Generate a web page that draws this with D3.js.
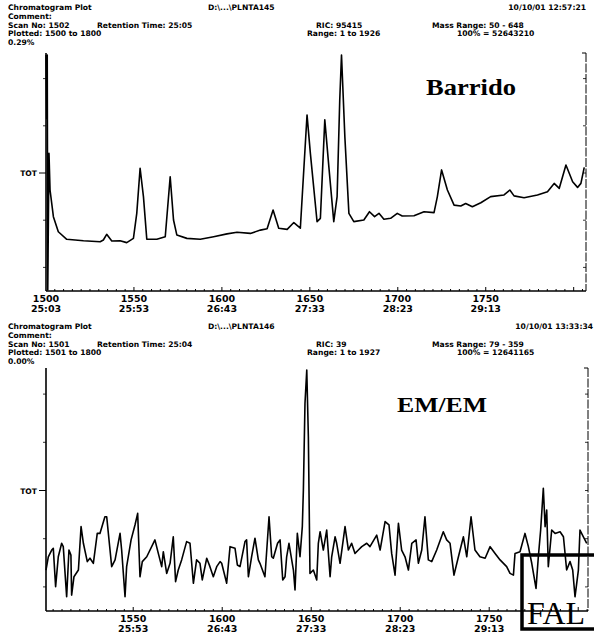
<!DOCTYPE html>
<html>
<head>
<meta charset="utf-8">
<title>Chromatogram Plot</title>
<script src="https://cdn.jsdelivr.net/npm/d3@7"></script>
<style>
	body { margin: 0; background: #fff; }
	svg { display: block; }
	.hdr { font-family: "DejaVu Sans", sans-serif; font-size: 7.6px; font-weight: bold; fill: #000; }
	.tick-lbl { font-family: "DejaVu Sans", sans-serif; font-size: 9.5px; font-weight: bold; fill: #000; text-anchor: middle; }
	.title { font-family: "Liberation Serif", serif; font-weight: bold; fill: #000; }
	.sig { fill: none; stroke: #000; stroke-width: 1.6; stroke-linejoin: round; }
</style>
</head>
<body>
<svg width="594" height="636"></svg>
<script>
// x tick labels (scan number / retention time)
var tickScans = [1500, 1550, 1600, 1650, 1700, 1750];
var tickTimes = ['25:03', '25:53', '26:43', '27:33', '28:23', '29:13'];

// panel 1: Barrido (full scan)
var barridoScans = [1500, 1500.4, 1500.7, 1501, 1501.7, 1502.3, 1504.2, 1507, 1511.8, 1521.3, 1530.8, 1532.6,
	1534.5, 1537.4, 1542.1, 1545.9, 1549.7, 1551.6, 1553.5, 1555.4, 1557.3, 1563, 1567.8, 1570.6, 1572.5,
	1574.4, 1580.1, 1587.7, 1595.3, 1602.9, 1608.6, 1616.2, 1621.9, 1625.7, 1629.1, 1632.3, 1637.1, 1640.9,
	1644.6, 1648.4, 1650.3, 1654.1, 1656, 1658.5, 1660.8, 1663.6, 1665.5, 1667, 1668, 1669.9, 1672.2, 1675,
	1680.7, 1683.9, 1686.8, 1689.3, 1692.1, 1695.9, 1699.7, 1702.5, 1709.2, 1714.9, 1720.6, 1722.5, 1724.9,
	1728.2, 1732, 1735.8, 1738.6, 1742.4, 1747.2, 1752.8, 1760.4, 1763.7, 1766.1, 1771.8, 1779.4, 1785.1,
	1788.9, 1791.8, 1795.6, 1799.4, 1802.2, 1804.1, 1806];
var barridoValues = [100, 73, 100, 0.4, 58.3, 42.8, 31.5, 25.1, 21.9, 21.3, 20.9, 21.6,
	24.0, 21.2, 21.3, 20.5, 22.3, 32.9, 52.0, 40.0, 22.0, 21.9, 23.0, 48.4, 30.1,
	23.7, 22.3, 21.9, 23.0, 24.2, 24.9, 24.4, 25.8, 26.4, 34.3, 26.6, 26.1, 29.0,
	26.6, 74.6, 58.3, 29.4, 30.8, 72.5, 52.7, 29.4, 40.0, 80.9, 100, 65.4, 32.9, 29.4,
	30.1, 33.6, 31.5, 32.9, 30.4, 30.8, 32.9, 31.8, 31.9, 33.6, 33.2, 40.0, 51.3,
	42.8, 36.4, 36.0, 37.1, 35.7, 37.4, 40.0, 40.7, 42.8, 40.3, 39.5, 40.7, 42.1,
	45.6, 43.5, 53.4, 46.3, 43.9, 45.6, 52.4];

// panel 2: EM/EM
var emScans = [1501, 1502.3, 1504.2, 1505.1, 1506.4, 1507.9, 1509.8, 1510.7, 1512.6, 1513.9, 1515, 1515.4,
	1516.7, 1519.2, 1520.7, 1522, 1524.2, 1525.7, 1527.6, 1529.8, 1531.3, 1534.1, 1535.1, 1537.9, 1539.8,
	1542.6, 1543.5, 1545.4, 1546.3, 1548.8, 1551, 1552.5, 1553.8, 1555.1, 1557.6, 1562.2, 1564.1, 1566,
	1566.9, 1568.8, 1570.7, 1572.5, 1573.8, 1575.3, 1577.2, 1580, 1581.9, 1583.8, 1585.6, 1587.5, 1588.8,
	1591.3, 1593.1, 1595, 1596.9, 1598.8, 1599.7, 1602.5, 1604.4, 1607.2, 1608.5, 1610, 1612.8, 1613.7,
	1614.7, 1616.5, 1618.4, 1620.3, 1621.2, 1624, 1626.3, 1627.8, 1628.7, 1631.1, 1632.5, 1634, 1635.3,
	1636.2, 1637.5, 1640, 1640.9, 1642.2, 1643.7, 1645, 1645.6, 1646.5, 1647.5, 1648.4, 1649.3, 1651.2,
	1653.1, 1654, 1655, 1656.8, 1658.7, 1660.6, 1661.5, 1663.4, 1664.3, 1666.2, 1669, 1670.9, 1672.7,
	1674.6, 1676.5, 1678.4, 1681.2, 1683, 1686.8, 1688.7, 1691.5, 1693.7, 1695.2, 1697.1, 1699, 1700.8,
	1702.7, 1704.6, 1706.5, 1708.9, 1710.2, 1712.1, 1713.9, 1715.8, 1717.7, 1720.5, 1724.2, 1726.1, 1728,
	1730.2, 1732.7, 1735.5, 1737.4, 1739.8, 1742, 1744.8, 1747.7, 1750.5, 1753.3, 1756.1, 1759.8, 1761.7,
	1763.6, 1764.5, 1767.3, 1770.1, 1772, 1773.9, 1776.3, 1777.6, 1778.9, 1780.4, 1781.4, 1782.3, 1783.2,
	1785.1, 1787, 1789.8, 1791.7, 1793.5, 1795.4, 1796.9, 1798.2, 1800.1, 1801, 1802.9, 1804.8];
var emValues = [17.0, 22.5, 25.3, 26.0, 10.1, 22.5, 28.1, 26.7, 5.9, 25.3, 23.2, 6.6,
	14.2, 17.0, 35.0, 28.1, 20.5, 21.9, 19.8, 32.2, 32.2, 39.1, 39.1, 18.4, 21.2,
	32.2, 25.3, 5.9, 18.4, 29.5, 35.7, 40.5, 14.2, 20.5, 22.5, 29.5, 23.9, 18.4,
	24.6, 15.6, 19.8, 30.8, 12.2, 17.0, 21.2, 28.8, 28.1, 11.5, 21.2, 19.8, 12.9,
	21.9, 18.4, 14.2, 18.4, 20.5, 19.8, 11.5, 26.7, 26.0, 19.1, 18.4, 28.8, 29.5,
	14.2, 22.5, 30.2, 21.2, 19.8, 14.2, 39.1, 22.5, 21.9, 28.1, 29.5, 12.9, 14.2,
	22.5, 28.1, 17.0, 8.7, 32.2, 22.5, 35.0, 50.2, 86.2, 100, 72.3, 15.6, 17.0,
	12.9, 28.1, 32.9, 25.3, 33.6, 14.2, 22.5, 30.8, 28.1, 19.8, 35.0, 25.3, 28.1,
	23.9, 25.3, 26.7, 28.1, 26.7, 31.5, 25.3, 37.1, 35.7, 23.9, 14.9, 36.4, 25.3,
	22.5, 17.0, 28.1, 29.5, 19.8, 25.3, 39.1, 21.2, 20.5, 25.3, 32.9, 29.5, 28.1,
	14.9, 22.5, 30.8, 22.5, 39.1, 25.3, 22.5, 21.9, 26.7, 23.9, 21.2, 18.4, 15.6,
	14.9, 23.9, 24.6, 32.2, 26.7, 19.8, 9.4, 22.5, 33.6, 50.9, 35.0, 41.9, 18.4,
	33.6, 32.2, 32.9, 30.8, 17.0, 20.5, 17.0, 5.9, 17.0, 33.6, 30.8, 28.1];

var svg = d3.select('svg');

function drawPanel(p) {
	var g = svg.append('g');

	// header block; items with a third field are right-aligned at x
	p.header.forEach(function(row, i) {
		row.forEach(function(item) {
			g.append('text')
				.attr('class', 'hdr')
				.attr('x', item[0])
				.attr('y', p.top + i * 8.8)
				.attr('text-anchor', item[2] ? 'end' : 'start')
				.text(item[1]);
		});
	});

	var x = d3.scaleLinear().domain(p.xDomain).range([46, p.right]);
	var y = d3.scaleLinear().domain([0, 100]).range([p.base, p.plotTop]);

	// bottom axis: minor ticks every 5 scans, longer at the labelled ones
	var minor = d3.range(1505, p.xDomain[1], 5);
	g.append('line')
		.attr('x1', 46).attr('x2', p.right)
		.attr('y1', p.base).attr('y2', p.base)
		.attr('stroke', '#000').attr('stroke-width', 1.3);
	g.selectAll('.mt').data(minor).enter().append('line')
		.attr('x1', x).attr('x2', x)
		.attr('y1', p.base)
		.attr('y2', function(d) { return d % 50 === 0 ? p.base - 4 : p.base - 2; })
		.attr('stroke', '#000').attr('stroke-width', 1);

	var labels = tickScans.map(function(s, i) { return { s: s, t: tickTimes[i] }; })
		.filter(function(d) { return d.s >= p.xDomain[0]; });
	labels.forEach(function(d) {
		g.append('text').attr('class', 'tick-lbl')
			.attr('x', x(d.s)).attr('y', p.base + 11).text(d.s);
		g.append('text').attr('class', 'tick-lbl')
			.attr('x', x(d.s)).attr('y', p.base + 21).text(d.t);
	});

	// left axis
	g.append('line')
		.attr('x1', 46).attr('x2', 46)
		.attr('y1', p.plotTop - 2).attr('y2', p.base)
		.attr('stroke', '#000').attr('stroke-width', 1.6);
	[10, 30, 70, 90].forEach(function(v) {
		g.append('line').attr('x1', 43).attr('x2', 46)
			.attr('y1', y(v)).attr('y2', y(v))
			.attr('stroke', '#000').attr('stroke-width', 0.8);
	});
	g.append('line').attr('x1', 39).attr('x2', 46)
		.attr('y1', y(50)).attr('y2', y(50))
		.attr('stroke', '#000').attr('stroke-width', 1);
	g.append('text').attr('class', 'hdr')
		.attr('x', 37).attr('y', y(50) + 3)
		.attr('text-anchor', 'end').text('TOT');

	// right axis (dashed frame edge with inward ticks)
	g.append('line')
		.attr('x1', p.right).attr('x2', p.right)
		.attr('y1', p.plotTop - 2).attr('y2', p.base)
		.attr('stroke', '#000').attr('stroke-width', 1)
		.attr('stroke-dasharray', '9,1.5');
	g.append('line')
		.attr('x1', p.right - 4).attr('x2', p.right)
		.attr('y1', p.plotTop - 2).attr('y2', p.plotTop - 2)
		.attr('stroke', '#000').attr('stroke-width', 1);
	[10, 30, 50, 70, 90].forEach(function(v) {
		g.append('line').attr('x1', p.right - 3).attr('x2', p.right)
			.attr('y1', y(v)).attr('y2', y(v))
			.attr('stroke', '#000').attr('stroke-width', 0.8);
	});

	// signal
	var line = d3.line()
		.x(function(d) { return x(d[0]); })
		.y(function(d) { return y(d[1]); });
	g.append('path')
		.datum(p.scans.map(function(s, i) { return [s, p.values[i]]; }))
		.attr('class', 'sig')
		.attr('d', line);

	// panel title
	g.append('text').attr('class', 'title')
		.attr('x', p.titleX).attr('y', p.titleY)
		.attr('font-size', p.titleSize)
		.attr('textLength', 90)
		.attr('lengthAdjust', 'spacingAndGlyphs')
		.text(p.title);
}

drawPanel({
	top: 10,
	header: [
		[[8, 'Chromatogram Plot'], [208, 'D:\\...\\PLNTA145'], [586, '10/10/01   12:57:21', 1]],
		[[8, 'Comment:']],
		[[8, 'Scan No: 1502'], [97, 'Retention Time: 25:05'], [316, 'RIC: 95415'], [432, 'Mass Range: 50 - 648']],
		[[8, 'Plotted: 1500 to 1800'], [307, 'Range: 1 to 1926'], [457, '100% = 52643210']],
		[[8, '0.29%']]
	],
	plotTop: 55, base: 291, right: 586,
	xDomain: [1500, 1807],
	scans: barridoScans, values: barridoValues,
	title: 'Barrido', titleX: 426, titleY: 95, titleSize: 23
});

drawPanel({
	top: 329,
	header: [
		[[8, 'Chromatogram Plot'], [208, 'D:\\...\\PLNTA146'], [593, '10/10/01   13:33:34', 1]],
		[[8, 'Comment:']],
		[[8, 'Scan No: 1501'], [97, 'Retention Time: 25:04'], [316, 'RIC: 39'], [432, 'Mass Range: 79 - 359']],
		[[8, 'Plotted: 1501 to 1800'], [307, 'Range: 1 to 1927'], [457, '100% = 12641165']],
		[[8, '0.00%']]
	],
	plotTop: 370, base: 611, right: 588,
	xDomain: [1501, 1805.5],
	scans: emScans, values: emValues,
	title: 'EM/EM', titleX: 397, titleY: 412, titleSize: 21
});

// stamp in the lower right corner
svg.append('rect')
	.attr('x', 522).attr('y', 555)
	.attr('width', 80).attr('height', 74)
	.attr('fill', 'none').attr('stroke', '#000').attr('stroke-width', 3.5);
svg.append('text')
	.attr('x', 527).attr('y', 624)
	.attr('font-family', '"Liberation Serif", serif')
	.attr('font-size', 32)
	.attr('fill', '#000')
	.text('FAL');
</script>
</body>
</html>
